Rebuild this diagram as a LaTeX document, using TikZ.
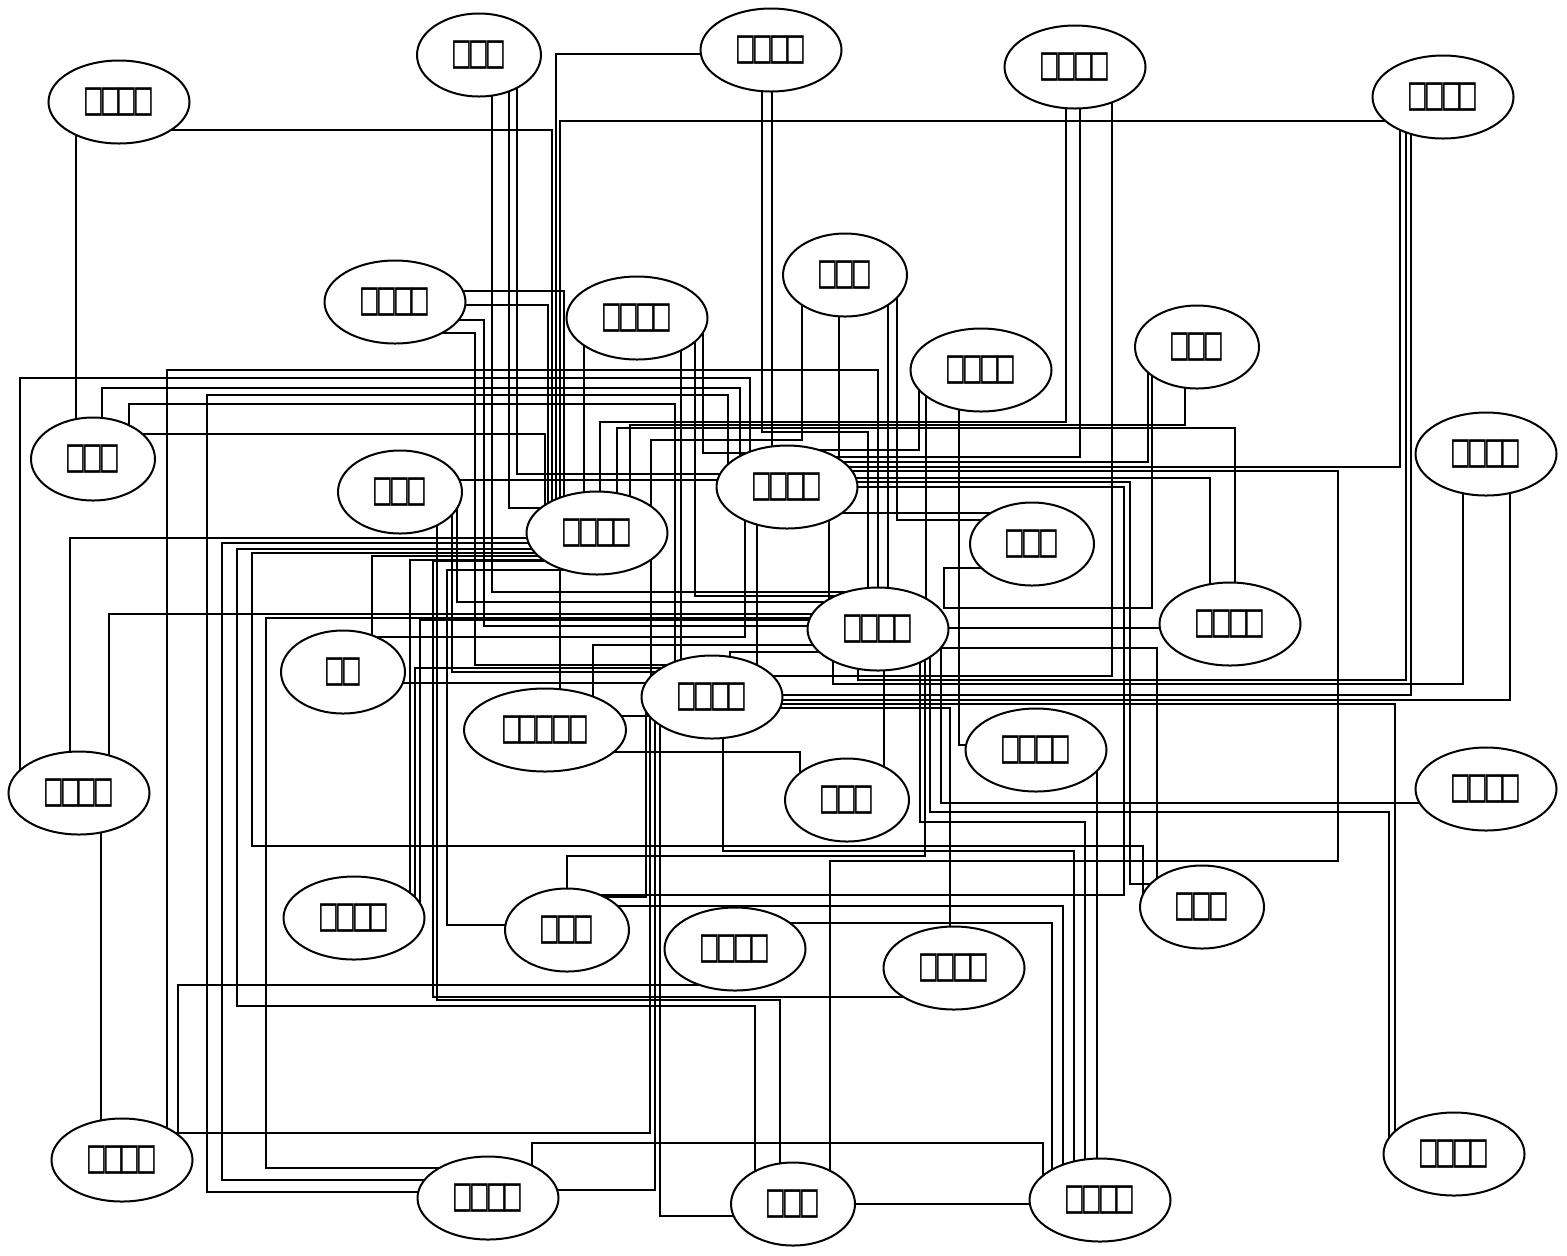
\documentclass[tikz,border=0pt]{standalone}
\usepackage{fontspec}
\newfontfamily\boxfont[FakeStretch=0.58]{DejaVu Sans Mono}
\usetikzlibrary{shapes.geometric,backgrounds}
\tikzset{
  nd/.style={ellipse, draw, line width=1pt, fill=white, minimum height=41.5pt, inner sep=0pt,
             font=\boxfont\fontsize{24}{26}\selectfont},
  n4/.style={nd, minimum width=70.5pt},
  n3/.style={nd, minimum width=62pt},
  n5/.style={nd, minimum width=81pt},
  ed/.style={line width=1pt, line join=miter},
}
\begin{document}
\begin{tikzpicture}[x=0.5pt,y=-0.5pt]
\useasboundingbox (0,0) rectangle (1567,1255);
\node[n4] (A) at (119,102) {□□□□};
\node[n3] (B) at (479,55) {□□□};
\node[n4] (C) at (771,50) {□□□□};
\node[n4] (D) at (1075,67) {□□□□};
\node[n4] (E) at (1443,97) {□□□□};
\node[n3] (F) at (845,275) {□□□};
\node[n4] (G) at (395,302) {□□□□};
\node[n4] (H) at (637,318) {□□□□};
\node[n4] (I) at (981,370) {□□□□};
\node[n3] (J) at (1197,347) {□□□};
\node[n3] (K) at (93,459) {□□□};
\node[n3] (L) at (400,492) {□□□};
\node[n4] (M) at (787,487) {□□□□};
\node[n4] (N) at (597,533) {□□□□};
\node[n3] (O) at (1032,544) {□□□};
\node[n4] (P) at (1486,454) {□□□□};
\node[n4] (Q) at (1230,624) {□□□□};
\node[n4] (R) at (878,629) {□□□□};
\node[n3] (S) at (343,672) {□□};
\node[n4] (T) at (712,697) {□□□□};
\node[n5] (U) at (545,730) {□□□□□};
\node[n4] (V) at (1036,750) {□□□□};
\node[n3] (W) at (847,800) {□□□};
\node[n4] (X) at (79,793) {□□□□};
\node[n4] (Y) at (1486,789) {□□□□};
\node[n3] (Z) at (1202,907) {□□□};
\node[n4] (AA) at (354,918) {□□□□};
\node[n3] (AB) at (567,930) {□□□};
\node[n4] (AC) at (735,949) {□□□□};
\node[n4] (AD) at (954,968) {□□□□};
\node[n4] (AE) at (122,1160) {□□□□};
\node[n4] (AF) at (488,1198) {□□□□};
\node[n3] (AG) at (793,1204) {□□□};
\node[n4] (AH) at (1100,1200) {□□□□};
\node[n4] (AI) at (1454,1154) {□□□□};
\begin{pgfonlayer}{background}
\draw[ed] (76,0 |- A) -- (76,0 |- K);
\draw[ed] (A |- 0,130) -- (552,130) -- (552,0 |- N);
\draw[ed] (C |- 0,54) -- (556,54) -- (556,0 |- N);
\draw[ed] (E |- 0,121) -- (560,121) -- (560,0 |- N);
\draw[ed] (1400,0 |- E) -- (1400,467) -- (M |- 0,467);
\draw[ed] (1406,0 |- E) -- (1406,680) -- (858,680) -- (858,0 |- R);
\draw[ed] (1411,0 |- E) -- (1411,695) -- (T |- 0,695);
\draw[ed] (1463,0 |- P) -- (1463,684) -- (833,684) -- (833,0 |- R);
\draw[ed] (1510,0 |- P) -- (1510,700) -- (T |- 0,700);
\draw[ed] (Y |- 0,803) -- (941,803) -- (941,0 |- R);
\draw[ed] (1389,0 |- AI) -- (1389,812) -- (930,812) -- (930,0 |- R);
\draw[ed] (1395,0 |- AI) -- (1395,704) -- (T |- 0,704);
\draw[ed] (AG |- 0,1204) -- (AH |- 0,1204);
\draw[ed] (101,0 |- X) -- (101,0 |- AE);
\draw[ed] (20,0 |- X) -- (20,378) -- (750,378) -- (750,0 |- M);
\draw[ed] (70,0 |- X) -- (70,538) -- (N |- 0,538);
\draw[ed] (109,0 |- X) -- (109,614) -- (R |- 0,614);
\draw[ed] (102,0 |- K) -- (102,388) -- (740,388) -- (740,0 |- M);
\draw[ed] (129,0 |- K) -- (129,404) -- (675,404) -- (675,0 |- T);
\draw[ed] (K |- 0,434) -- (545,434) -- (545,0 |- N);
\draw[ed] (167,0 |- AE) -- (167,370) -- (878,370) -- (878,0 |- R);
\draw[ed] (AE |- 0,1133) -- (650,1133) -- (650,0 |- T);
\draw[ed] (178,0 |- AE) -- (178,985) -- (AC |- 0,985);
\draw[ed] (AF |- 0,1192) -- (207,1192) -- (207,395) -- (728,395) -- (728,0 |- M);
\draw[ed] (AF |- 0,1180) -- (222,1180) -- (222,543) -- (N |- 0,543);
\draw[ed] (AF |- 0,1168) -- (266,1168) -- (266,618) -- (R |- 0,618);
\draw[ed] (755,0 |- AG) -- (755,1006) -- (237,1006) -- (237,549) -- (N |- 0,549);
\draw[ed] (1143,0 |- Z) -- (1143,846) -- (252,846) -- (252,553) -- (N |- 0,553);
\draw[ed] (AF |- 0,1190) -- (655,1190) -- (655,0 |- T);
\draw[ed] (532,0 |- AF) -- (532,1143) -- (1043,1143) -- (1043,0 |- AH);
\draw[ed] (AG |- 0,1216) -- (660,1216) -- (660,0 |- T);
\draw[ed] (780,0 |- AG) -- (780,1000) -- (437,1000) -- (437,0 |- L);
\draw[ed] (AD |- 0,997) -- (433,997) -- (433,561) -- (N |- 0,561);
\draw[ed] (1052,0 |- AH) -- (1052,923) -- (AC |- 0,923);
\draw[ed] (1063,0 |- AH) -- (1063,906) -- (AB |- 0,906);
\draw[ed] (1074,0 |- AH) -- (1074,851) -- (723,851) -- (723,0 |- T);
\draw[ed] (1085,0 |- AH) -- (1085,822) -- (920,822) -- (920,0 |- R);
\draw[ed] (1097,0 |- AH) -- (1097,0 |- V);
\draw[ed] (567,0 |- AB) -- (567,856) -- (925,856) -- (925,0 |- R);
\draw[ed] (M |- 0,471) -- (1338,471) -- (1338,861) -- (830,861) -- (830,0 |- AG);
\draw[ed] (AB |- 0,897) -- (646,897) -- (646,0 |- T);
\draw[ed] (AB |- 0,925) -- (447,925) -- (447,570) -- (N |- 0,570);
\draw[ed] (950,0 |- AD) -- (950,708) -- (T |- 0,708);
\draw[ed] (1066,0 |- D) -- (1066,422) -- (600,422) -- (600,0 |- N);
\draw[ed] (1080,0 |- D) -- (1080,457) -- (M |- 0,457);
\draw[ed] (1112,0 |- D) -- (1112,676) -- (T |- 0,676);
\draw[ed] (839,0 |- F) -- (839,0 |- M);
\draw[ed] (888,0 |- F) -- (888,0 |- R);
\draw[ed] (802,0 |- F) -- (802,440) -- (651,440) -- (651,0 |- T);
\draw[ed] (897,0 |- F) -- (897,520) -- (O |- 0,520);
\draw[ed] (772,0 |- C) -- (772,0 |- M);
\draw[ed] (762,0 |- C) -- (762,432) -- (868,432) -- (868,0 |- R);
\draw[ed] (584,0 |- H) -- (584,0 |- N);
\draw[ed] (681,0 |- H) -- (681,0 |- T);
\draw[ed] (695,0 |- H) -- (695,596) -- (R |- 0,596);
\draw[ed] (703,0 |- H) -- (703,453) -- (M |- 0,453);
\draw[ed] (919,0 |- I) -- (919,450) -- (820,450) -- (820,0 |- M);
\draw[ed] (959,0 |- I) -- (959,745) -- (V |- 0,745);
\draw[ed] (926,0 |- I) -- (926,0 |- R);
\draw[ed] (1148,0 |- J) -- (1148,462) -- (M |- 0,462);
\draw[ed] (1152,0 |- J) -- (1152,608) -- (944,608) -- (944,568) -- (O |- 0,568);
\draw[ed] (1185,0 |- J) -- (1185,425) -- (630,425) -- (630,0 |- N);
\draw[ed] (617,0 |- N) -- (617,428) -- (1235,428) -- (1235,0 |- Q);
\draw[ed] (M |- 0,478) -- (1210,478) -- (1210,0 |- Q);
\draw[ed] (M |- 0,482) -- (1130,482) -- (1130,884) -- (Z |- 0,884);
\draw[ed] (M |- 0,487) -- (1124,487) -- (1124,895) -- (AB |- 0,895);
\draw[ed] (843,0 |- M) -- (843,513) -- (O |- 0,513);
\draw[ed] (R |- 0,628) -- (Q |- 0,628);
\draw[ed] (R |- 0,648) -- (1157,648) -- (1157,0 |- Z);
\draw[ed] (L |- 0,480) -- (M |- 0,480);
\draw[ed] (452,0 |- L) -- (452,672) -- (T |- 0,672);
\draw[ed] (457,0 |- L) -- (457,602) -- (R |- 0,602);
\draw[ed] (492,0 |- B) -- (492,592) -- (R |- 0,592);
\draw[ed] (509,0 |- B) -- (509,508) -- (N |- 0,508);
\draw[ed] (517,0 |- B) -- (517,474) -- (M |- 0,474);
\draw[ed] (G |- 0,291) -- (564,291) -- (564,0 |- N);
\draw[ed] (G |- 0,305) -- (548,305) -- (548,0 |- N);
\draw[ed] (G |- 0,320) -- (484,320) -- (484,626) -- (R |- 0,626);
\draw[ed] (G |- 0,333) -- (475,333) -- (475,665) -- (T |- 0,665);
\draw[ed] (410,0 |- AA) -- (410,560) -- (N |- 0,560);
\draw[ed] (420,0 |- AA) -- (420,620) -- (R |- 0,620);
\draw[ed] (415,0 |- AA) -- (415,668) -- (T |- 0,668);
\draw[ed] (372,0 |- S) -- (372,556) -- (N |- 0,556);
\draw[ed] (S |- 0,683) -- (T |- 0,683);
\draw[ed] (S |- 0,637) -- (745,637) -- (745,0 |- M);
\draw[ed] (560,0 |- U) -- (560,0 |- N);
\draw[ed] (593,0 |- U) -- (593,645) -- (R |- 0,645);
\draw[ed] (U |- 0,716) -- (T |- 0,716);
\draw[ed] (U |- 0,752) -- (800,752) -- (800,0 |- W);
\draw[ed] (884,0 |- W) -- (884,0 |- R);
\draw[ed] (730,0 |- T) -- (730,652) -- (R |- 0,652);
\draw[ed] (757,0 |- M) -- (757,0 |- T);
\draw[ed] (829,0 |- M) -- (829,0 |- R);
\end{pgfonlayer}
\end{tikzpicture}
\end{document}
